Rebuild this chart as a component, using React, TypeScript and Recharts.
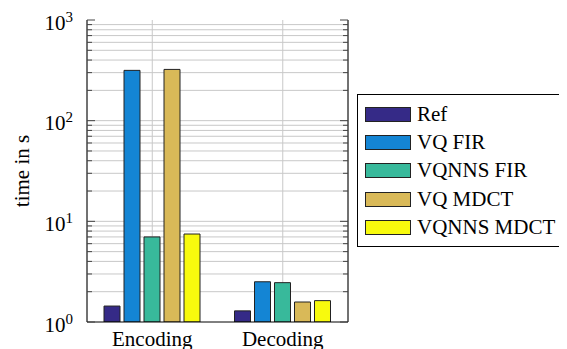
import React from "react";
import { Bar, BarChart, CartesianGrid, XAxis, YAxis } from "recharts";

const categories = ["Encoding", "Decoding"];
const refTimes = [1.44, 1.29];
const vqFirTimes = [316, 2.51];
const vqnnsFirTimes = [7.0, 2.46];
const vqMdctTimes = [323, 1.58];
const vqnnsMdctTimes = [7.48, 1.63];

const seriesNames = ["Ref", "VQ FIR", "VQNNS FIR", "VQ MDCT", "VQNNS MDCT"];
// note: "ref" can't be a data field, recharts spreads entries onto the rects
const seriesKeys = ["refT", "vqFir", "vqnnsFir", "vqMdct", "vqnnsMdct"];
const seriesColors = ["#352a87", "#1485d4", "#38b99b", "#d9b958", "#f8fa0d"];

const majorTicks = [1, 10, 100, 1000];
const minorTicks = [
  2, 3, 4, 5, 6, 7, 8, 9,
  20, 30, 40, 50, 60, 70, 80, 90,
  200, 300, 400, 500, 600, 700, 800, 900,
];
const allTicks = [...majorTicks, ...minorTicks].sort((a, b) => a - b);
const gridValues = allTicks.filter((v) => v > 1 && v < 1000);

const data = categories.map((name, i) => ({
  name,
  refT: refTimes[i],
  vqFir: vqFirTimes[i],
  vqnnsFir: vqnnsFirTimes[i],
  vqMdct: vqMdctTimes[i],
  vqnnsMdct: vqnnsMdctTimes[i],
}));

const FONT = "'Liberation Serif', 'Times New Roman', serif";
const TICK_MARGIN = 10;

const isMajor = (v: number) => majorTicks.includes(v);

function renderLeftTick(props: any) {
  const { x, y, payload } = props;
  const v = payload.value;
  const axisX = x + TICK_MARGIN;
  const len = isMajor(v) ? 8 : 5;
  return (
    <g key={`l-${v}`}>
      <line x1={axisX} x2={axisX + len} y1={y} y2={y} stroke="#444" />
      {isMajor(v) && (
        <text x={x - 4} y={y + 9.5} textAnchor="end" fontFamily={FONT} fontSize={21} fill="#000">
          <tspan>10</tspan>
          <tspan dy={-8} fontSize={15}>{Math.round(Math.log10(v))}</tspan>
        </text>
      )}
    </g>
  );
}

function renderRightTick(props: any) {
  const { x, y, payload } = props;
  const v = payload.value;
  const axisX = x - TICK_MARGIN;
  const len = isMajor(v) ? 8 : 5;
  return <line key={`r-${v}`} x1={axisX} x2={axisX - len} y1={y} y2={y} stroke="#444" />;
}

function renderTopTick(props: any) {
  const { x, y, payload } = props;
  return <line key={`t-${payload.value}`} x1={x} x2={x} y1={y} y2={y + 8} stroke="#444" />;
}

function renderBottomTick(props: any) {
  const { x, y, payload } = props;
  return (
    <text key={`b-${payload.value}`} x={x} y={y + 24} textAnchor="middle" fontFamily={FONT} fontSize={21} fill="#000">
      {payload.value}
    </text>
  );
}

function LegendBox() {
  return (
    <div
      style={{
        position: "absolute",
        left: 349,
        top: 86,
        boxSizing: "border-box",
        width: 240,
        height: 153,
        border: "1px solid #000",
        background: "#fff",
        paddingTop: 5,
        fontFamily: FONT,
        fontSize: 21,
      }}
    >
      {seriesNames.map((name, i) => (
        <div key={name} style={{ display: "flex", alignItems: "center", height: 28.4, paddingLeft: 7 }}>
          <div
            style={{
              boxSizing: "border-box",
              width: 46,
              height: 15,
              background: seriesColors[i],
              border: "1px solid #222",
              marginRight: 6,
            }}
          />
          <span style={{ lineHeight: 1 }}>{name}</span>
        </div>
      ))}
    </div>
  );
}

export default function App() {
  return (
    <div style={{ width: 559, height: 341, overflow: "hidden", position: "relative" }}>
      <BarChart
        width={559}
        height={341}
        data={data}
        margin={{ top: 12, right: 218, bottom: 0, left: 0 }}
        barGap={4}
        barCategoryGap={17}
      >
        <CartesianGrid
          xAxisId="bottom"
          yAxisId="left"
          stroke="#c8c8c8"
          horizontalValues={gridValues}
        />
        <XAxis
          xAxisId="bottom"
          dataKey="name"
          height={27}
          tickSize={0}
          tickMargin={0}
          tickLine={false}
          axisLine={{ stroke: "#000" }}
          tick={renderBottomTick}
        />
        <XAxis
          xAxisId="top"
          orientation="top"
          dataKey="name"
          height={0}
          tickSize={0}
          tickMargin={0}
          tickLine={false}
          axisLine={{ stroke: "#000" }}
          tick={renderTopTick}
        />
        <YAxis
          yAxisId="left"
          scale="log"
          domain={[1, 1000]}
          allowDataOverflow
          ticks={allTicks}
          interval={0}
          width={79}
          tickSize={0}
          tickMargin={TICK_MARGIN}
          tickLine={false}
          axisLine={{ stroke: "#000" }}
          tick={renderLeftTick}
          label={{
            value: "time in s",
            angle: -90,
            position: "insideLeft",
            offset: 13.5,
            style: { textAnchor: "middle", fontFamily: FONT, fontSize: 21, fill: "#000" },
          }}
        />
        <YAxis
          yAxisId="right"
          orientation="right"
          scale="log"
          domain={[1, 1000]}
          allowDataOverflow
          ticks={allTicks}
          interval={0}
          width={1}
          tickSize={0}
          tickMargin={TICK_MARGIN}
          tickLine={false}
          axisLine={{ stroke: "#000" }}
          tick={renderRightTick}
        />
        {seriesKeys.map((key, i) => (
          <Bar
            key={key}
            xAxisId="bottom"
            yAxisId="left"
            dataKey={key}
            name={seriesNames[i]}
            fill={seriesColors[i]}
            stroke="#222"
            strokeWidth={1}
            isAnimationActive={false}
          />
        ))}
      </BarChart>
      <LegendBox />
    </div>
  );
}
